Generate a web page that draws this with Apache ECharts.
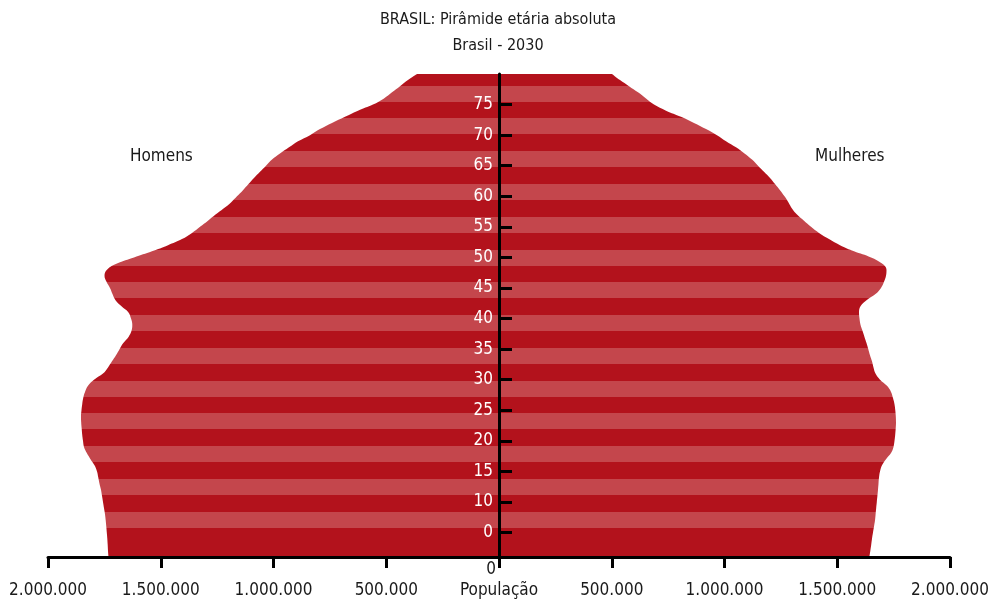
<!DOCTYPE html>
<html>
<head>
<meta charset="utf-8">
<script src="https://cdn.jsdelivr.net/npm/echarts@6/dist/echarts.min.js"></script>
<style>
html,body{margin:0;padding:0;background:#fff;}
#chart{width:996px;height:602px;}
</style>
</head>
<body>
<div id="chart"></div>
<script>
// ---- data ----
const ages = [];
for (let a = 1; a <= 80; a++) ages.push(String(a));

const males = [
  1731700,1733900,1735300,1737000,1739300,1741500,1744100,1747200,1751700,1756100,
  1760500,1765000,1771600,1777000,1782700,1793800,1811500,1827900,1840400,1844800,
  1848300,1850600,1852800,1853700,1851500,1848300,1843900,1835900,1822600,1796000,
  1756100,1733900,1716200,1698500,1682900,1666100,1643000,1629700,1626200,1631900,
  1643000,1674100,1700700,1714000,1725100,1740600,1749400,1738400,1694000,1618600,
  1538800,1467900,1405800,1361400,1325900,1290500,1257200,1221700,1188500,1161900,
  1135300,1110900,1086500,1059900,1033300,1006600,971200,931300,891400,838100,
  793800,740600,682900,625300,558800,510000,474500,439000,403600,363600
];
const females = [
  1642100,1646600,1650600,1654100,1658500,1663000,1667400,1670100,1672700,1675400,
  1678100,1680700,1682900,1685100,1689600,1698500,1716200,1738400,1749400,1753900,
  1757000,1759200,1760500,1759700,1757400,1753900,1747200,1738400,1720600,1689600,
  1669600,1660800,1654100,1645200,1637700,1629700,1620800,1612000,1603100,1598700,
  1596500,1603100,1629700,1669600,1694000,1707300,1716200,1718400,1698500,1649700,
  1574300,1512200,1463400,1419100,1383600,1352600,1321500,1299300,1283800,1266100,
  1246100,1224000,1201800,1175200,1148600,1122000,1088700,1051000,1006700,966700,
  918000,864700,807100,740600,687400,651900,616400,576500,536600,501100
];

const ageTickValues = ['5','10','15','20','25','30','35','40','45','50','55','60','65','70','75'];
const ageTickLabels = ['0','10','15','20','25','30','35','40','45','50','55','60','65','70','75'];

const titleText = 'BRASIL: Pirâmide etária absoluta';
const subtitleText = 'Brasil - 2030';
const maleName = 'Homens';
const femaleName = 'Mulheres';
const xAxisName = 'População';

// ---- style ----
const FONT = "'Noto Sans Condensed', 'DejaVu Sans Condensed', 'Liberation Sans Narrow', 'Open Sans', sans-serif";
const DARK = '#b3121c';
const LIGHT = '#c4464c';
const TEXT = '#1a1a1a';
const H = 602;

function stripes() {
  const stops = [{offset: 0, color: DARK}];
  const first = 85.7, period = 32.77, band = 16;
  for (let i = 0; i < 14; i++) {
    const s = (first + period * i) / H, e = (first + period * i + band) / H;
    stops.push({offset: s, color: DARK}, {offset: s, color: LIGHT},
               {offset: e, color: LIGHT}, {offset: e, color: DARK});
  }
  stops.push({offset: 1, color: DARK});
  return {type: 'linear', x: 0, y: 0, x2: 0, y2: H, global: true, colorStops: stops};
}

function fmt(v) {
  return String(Math.abs(v)).replace(/\B(?=(\d{3})+(?!\d))/g, '.');
}

const GRID_LEFT = 48, GRID_RIGHT = 46, GRID_W = 996 - GRID_LEFT - GRID_RIGHT;

const chart = echarts.init(document.getElementById('chart'), null, {renderer: 'canvas'});
const option = {
  animation: false,
  backgroundColor: '#fff',
  textStyle: {fontFamily: FONT},
  title: {
    text: titleText + '\n' + subtitleText,
    left: 'center',
    top: 2,
    textStyle: {fontFamily: FONT, fontWeight: 'normal', fontSize: 16, color: TEXT, lineHeight: 26}
  },
  grid: {left: GRID_LEFT, right: GRID_RIGHT, top: 74, bottom: 45, containLabel: false},
  xAxis: {
    type: 'value',
    min: -2000000, max: 2000000, interval: 500000,
    z: 6,
    splitLine: {show: false},
    axisLine: {show: true, onZero: false, lineStyle: {color: '#000', width: 3}},
    axisTick: {show: true, length: 11, lineStyle: {color: '#000', width: 3}},
    axisLabel: {
      margin: 2, fontSize: 17, color: TEXT, fontFamily: FONT, lineHeight: 21,
      formatter: v => v === 0 ? '{z|0}\n' + xAxisName : '\n' + fmt(v),
      rich: {z: {fontSize: 17, fontFamily: FONT, color: TEXT, lineHeight: 21, padding: [0, 16, 0, 0]}}
    }
  },
  yAxis: {
    type: 'category',
    data: ages,
    boundaryGap: false,
    position: 'left',
    offset: -GRID_W / 2,
    z: 6,
    axisLine: {show: true, onZero: false, lineStyle: {color: '#000', width: 3}},
    axisTick: {
      show: true, inside: true, length: 13,
      lineStyle: {color: '#000', width: 3},
      interval: (i, v) => ageTickValues.indexOf(v) >= 0
    },
    axisLabel: {
      show: true, margin: 6, fontSize: 17, color: '#ffffff', fontFamily: FONT,
      hideOverlap: false,
      interval: (i, v) => ageTickValues.indexOf(v) >= 0,
      formatter: v => {
        const k = ageTickValues.indexOf(v);
        return k >= 0 ? ageTickLabels[k] : '';
      }
    },
    splitLine: {show: false}
  },
  graphic: [
    {type: 'text', left: 130, top: 148, style: {text: maleName, fontSize: 17, fontFamily: FONT, fill: TEXT}},
    {type: 'text', left: 815, top: 148, style: {text: femaleName, fontSize: 17, fontFamily: FONT, fill: TEXT}}
  ],
  series: [
    {
      name: maleName, type: 'line', smooth: 0.4, showSymbol: false, z: 2,
      data: males.map(v => -v),
      lineStyle: {width: 0},
      areaStyle: {color: stripes(), opacity: 1}
    },
    {
      name: femaleName, type: 'line', smooth: 0.4, showSymbol: false, z: 2,
      data: females,
      lineStyle: {width: 0},
      areaStyle: {color: stripes(), opacity: 1}
    }
  ]
};
chart.setOption(option);
</script>
</body>
</html>
